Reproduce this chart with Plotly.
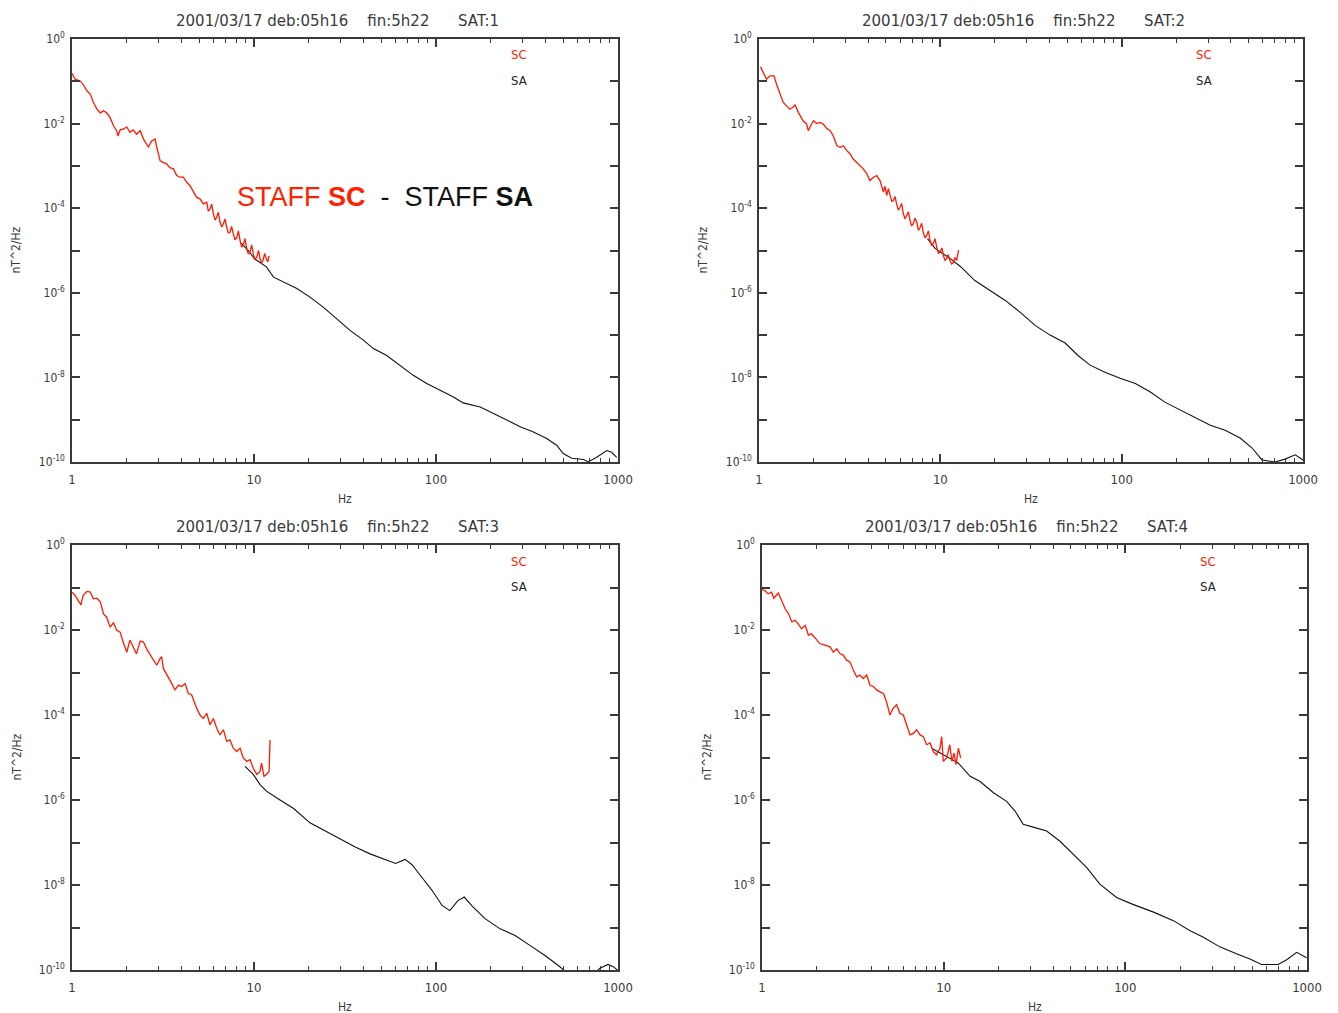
import plotly.graph_objects as go

# ---------------- data ----------------
titles = [
    "2001/03/17 deb:05h16    fin:5h22      SAT:1",
    "2001/03/17 deb:05h16    fin:5h22      SAT:2",
    "2001/03/17 deb:05h16    fin:5h22      SAT:3",
    "2001/03/17 deb:05h16    fin:5h22      SAT:4",
]
x_tick_vals = [1, 10, 100, 1000]
x_tick_text = ["1", "10", "100", "1000"]
y_tick_vals = [1e-10, 1e-9, 1e-8, 1e-7, 1e-6, 1e-5, 1e-4, 1e-3, 1e-2, 1e-1, 1e0]
y_tick_text = ["10<sup>-10</sup>", "", "10<sup>-8</sup>", "", "10<sup>-6</sup>", "",
               "10<sup>-4</sup>", "", "10<sup>-2</sup>", "", "10<sup>0</sup>"]

# SAT 1
sat1_sc_hz = [1.00, 1.04, 1.11, 1.15, 1.21, 1.26, 1.31, 1.37, 1.43, 1.49, 1.55, 1.62, 1.69, 1.76,
              1.79, 1.84, 1.91, 2.00, 2.08, 2.17, 2.26, 2.37, 2.47, 2.57, 2.63, 2.74, 2.86, 2.92,
              3.05, 3.18, 3.31, 3.45, 3.61, 3.76, 3.92, 4.09, 4.27, 4.45, 4.65, 4.84, 5.05, 5.27,
              5.50, 5.61, 5.73, 5.85, 5.98, 6.11, 6.24, 6.37, 6.50, 6.64, 6.79, 6.93, 7.08, 7.23,
              7.38, 7.53, 7.69, 7.86, 8.04, 8.21, 8.38, 8.55, 8.73, 8.92, 9.12, 9.31, 9.51, 9.71,
              9.91, 10.1, 10.35, 10.6, 10.8, 11.0, 11.2, 11.45, 11.7, 11.9, 12.1]
sat1_sc_psd = [0.155, 0.112, 0.102, 0.085, 0.059, 0.050, 0.032, 0.022, 0.018, 0.020, 0.018, 0.0138,
               0.0089, 0.0068, 0.0051, 0.0071, 0.0074, 0.0083, 0.0062, 0.0071, 0.0056, 0.0068,
               0.0043, 0.0033, 0.0028, 0.0039, 0.0043, 0.0028, 1.32e-3, 1.20e-3, 1.12e-3, 9.1e-4,
               8.5e-4, 5.9e-4, 5.4e-4, 5.4e-4, 4.1e-4, 3.4e-4, 2.4e-4, 1.8e-4, 1.66e-4, 1.26e-4,
               1.38e-4, 8.5e-5, 9.5e-5, 1.25e-4, 7.4e-5, 5.2e-5, 6.2e-5, 8.0e-5, 4.7e-5, 3.6e-5,
               4.3e-5, 5.6e-5, 3.5e-5, 2.6e-5, 2.7e-5, 3.7e-5, 2.5e-5, 1.8e-5, 2.0e-5, 2.9e-5,
               1.74e-5, 1.2e-5, 1.32e-5, 1.9e-5, 1.10e-5, 8.2e-6, 9.1e-6, 1.35e-5, 8.3e-6, 6.2e-6,
               6.9e-6, 1.0e-5, 6.3e-6, 5.0e-6, 5.8e-6, 8.5e-6, 6.3e-6, 5.4e-6, 7.5e-6]
sat1_sa_hz = [8.5, 9.3, 10.1, 11.7, 12.8, 13.9, 15.8, 17.2, 20.3, 24.0, 28.4, 33.7, 39.9, 45.3,
              53.6, 63.4, 75.0, 88.9, 105, 124, 141, 175, 207, 244, 290, 343, 406, 460, 500, 557,
              646, 687, 764, 867, 923, 984]
sat1_sa_psd = [1.5e-5, 1.0e-5, 6.3e-6, 4.1e-6, 2.34e-6, 1.95e-6, 1.48e-6, 1.26e-6, 7.9e-7, 4.6e-7,
               2.45e-7, 1.29e-7, 7.6e-8, 4.8e-8, 3.3e-8, 1.95e-8, 1.12e-8, 7.2e-9, 5.0e-9, 3.5e-9,
               2.5e-9, 2.0e-9, 1.41e-9, 9.8e-10, 6.8e-10, 5.1e-10, 3.6e-10, 2.5e-10, 1.58e-10,
               1.23e-10, 1.15e-10, 1.02e-10, 1.29e-10, 1.86e-10, 1.70e-10, 1.29e-10]

# SAT 2
sat2_sc_hz = [1.02, 1.06, 1.10, 1.15, 1.21, 1.25, 1.31, 1.36, 1.42, 1.48, 1.55, 1.58, 1.65, 1.75,
              1.83, 1.87, 1.95, 2.00, 2.08, 2.17, 2.26, 2.36, 2.47, 2.57, 2.69, 2.80, 2.92, 3.05,
              3.18, 3.31, 3.46, 3.61, 3.76, 3.93, 4.09, 4.28, 4.46, 4.65, 4.85, 4.95, 5.06, 5.17,
              5.28, 5.40, 5.51, 5.62, 5.74, 5.87, 6.00, 6.12, 6.25, 6.39, 6.53, 6.67, 6.81, 6.95,
              7.10, 7.25, 7.41, 7.57, 7.73, 7.89, 8.05, 8.23, 8.41, 8.59, 8.77, 8.95, 9.14, 9.35,
              9.55, 9.75, 9.95, 10.2, 10.4, 10.6, 10.8, 11.05, 11.3, 11.55, 11.8, 12.05, 12.3, 12.6]
sat2_sc_psd = [0.219, 0.148, 0.112, 0.135, 0.135, 0.085, 0.050, 0.0316, 0.0263, 0.0219, 0.0251,
               0.0275, 0.0182, 0.0117, 0.0098, 0.0068, 0.0098, 0.0117, 0.0100, 0.0107, 0.0098,
               0.0078, 0.0068, 0.0051, 0.0030, 0.00275, 0.0030, 2.29e-3, 1.91e-3, 1.45e-3, 1.20e-3,
               1.00e-3, 8.5e-4, 6.5e-4, 4.5e-4, 5.4e-4, 5.9e-4, 4.5e-4, 2.4e-4, 3.3e-4, 2.0e-4,
               2.9e-4, 2.2e-4, 1.45e-4, 1.51e-4, 1.9e-4, 1.26e-4, 9.0e-5, 1.05e-4, 1.3e-4, 7.4e-5,
               5.6e-5, 6.8e-5, 8.2e-5, 5.1e-5, 3.8e-5, 4.3e-5, 5.8e-5, 4.7e-5, 3.0e-5, 3.5e-5,
               4.4e-5, 2.7e-5, 2.0e-5, 2.24e-5, 2.9e-5, 1.74e-5, 1.3e-5, 1.45e-5, 1.9e-5, 1.20e-5,
               8.6e-6, 9.1e-6, 1.15e-5, 7.6e-6, 5.9e-6, 6.3e-6, 8.0e-6, 5.8e-6, 4.8e-6, 5.2e-6,
               6.8e-6, 5.8e-6, 1.02e-5]
sat2_sa_hz = [8.5, 9.35, 11.3, 12.9, 15.5, 18.8, 22.8, 27.5, 33.3, 40.3, 48.8, 57.4, 67.0, 80.9,
              98.0, 119, 144, 173, 210, 254, 308, 372, 450, 524, 594, 701, 796, 906, 1000]
sat2_sa_psd = [1.9e-5, 1.12e-5, 6.5e-6, 4.2e-6, 1.95e-6, 1.15e-6, 6.6e-7, 3.5e-7, 1.70e-7, 1.0e-7,
               6.5e-8, 3.3e-8, 1.95e-8, 1.32e-8, 9.5e-9, 7.2e-9, 4.5e-9, 2.6e-9, 1.70e-9, 1.10e-9,
               7.4e-10, 5.6e-10, 3.7e-10, 2.14e-10, 1.12e-10, 1.0e-10, 1.17e-10, 1.48e-10, 1.12e-10]

# SAT 3
sat3_sc_hz = [1.00, 1.04, 1.08, 1.12, 1.15, 1.21, 1.26, 1.31, 1.37, 1.43, 1.49, 1.55, 1.62, 1.69,
              1.76, 1.84, 1.91, 2.00, 2.08, 2.17, 2.26, 2.37, 2.47, 2.57, 2.69, 2.80, 2.92, 3.05,
              3.11, 3.18, 3.31, 3.45, 3.68, 3.84, 4.01, 4.18, 4.36, 4.54, 4.84, 5.05, 5.27, 5.50,
              5.73, 5.98, 6.24, 6.50, 6.79, 7.08, 7.38, 7.69, 8.04, 8.38, 8.73, 9.12, 9.51, 9.91,
              10.35, 10.8, 11.0, 11.35, 11.7, 12.1, 12.25]
sat3_sc_psd = [0.078, 0.065, 0.050, 0.039, 0.065, 0.081, 0.078, 0.054, 0.056, 0.046, 0.024, 0.020,
               0.0117, 0.0148, 0.0098, 0.0089, 0.0052, 0.0030, 0.0058, 0.0040, 0.00275, 0.0055,
               0.0052, 0.0036, 0.00257, 0.00195, 0.00148, 0.00214, 0.00234, 1.23e-3, 8.7e-4,
               6.6e-4, 3.9e-4, 5.0e-4, 4.7e-4, 5.5e-4, 3.2e-4, 3.0e-4, 1.45e-4, 1.0e-4, 8.3e-5,
               1.1e-4, 5.9e-5, 8.3e-5, 4.9e-5, 3.4e-5, 4.5e-5, 2.4e-5, 2.6e-5, 1.66e-5, 1.38e-5,
               1.66e-5, 9.8e-6, 8.1e-6, 8.9e-6, 5.6e-6, 4.0e-6, 4.7e-6, 7.4e-6, 3.6e-6, 4.0e-6,
               4.7e-6, 2.6e-5]
sat3_sa_hz = [8.93, 9.9, 10.8, 11.7, 13.9, 16.5, 20.3, 24.5, 29.7, 36.0, 43.4, 52.5, 60.0, 67.6,
              73.8, 83.8, 95.1, 108, 119, 132, 143, 158, 186, 225, 272, 328, 397, 468, 531, 618,
              719, 796, 881, 940, 1000]
sat3_sa_psd = [6.2e-6, 4.0e-6, 2.3e-6, 1.62e-6, 1.0e-6, 6.3e-7, 2.9e-7, 1.9e-7, 1.2e-7, 7.8e-8,
               5.4e-8, 3.9e-8, 3.2e-8, 4.0e-8, 3.0e-8, 1.5e-8, 7.5e-9, 3.3e-9, 2.5e-9, 4.3e-9,
               5.2e-9, 3.2e-9, 1.62e-9, 9.3e-10, 6.5e-10, 3.8e-10, 2.19e-10, 1.29e-10, 8.3e-11,
               6.3e-11, 7.4e-11, 1.10e-10, 1.35e-10, 1.20e-10, 9.8e-11]

# SAT 4
sat4_sc_hz = [1.00, 1.04, 1.08, 1.13, 1.16, 1.21, 1.23, 1.28, 1.34, 1.40, 1.46, 1.52, 1.58, 1.65,
              1.73, 1.80, 1.87, 1.96, 2.08, 2.22, 2.37, 2.47, 2.58, 2.69, 2.80, 2.92, 3.05, 3.18,
              3.32, 3.46, 3.61, 3.77, 3.93, 4.10, 4.28, 4.46, 4.66, 4.85, 5.06, 5.28, 5.51, 5.74,
              6.00, 6.25, 6.53, 6.81, 7.10, 7.41, 7.73, 8.05, 8.41, 8.77, 9.14, 9.55, 9.75, 9.95,
              10.4, 10.8, 11.1, 11.4, 11.7, 12.05, 12.4]
sat4_sc_psd = [0.089, 0.085, 0.071, 0.078, 0.056, 0.071, 0.074, 0.050, 0.0316, 0.024, 0.0155,
               0.0170, 0.0141, 0.0107, 0.0129, 0.0076, 0.0081, 0.0065, 0.0048, 0.0044, 0.0040,
               0.0030, 0.0036, 0.00275, 0.00257, 0.00195, 0.00178, 1.15e-3, 7.9e-4, 8.7e-4,
               7.2e-4, 8.7e-4, 5.0e-4, 4.7e-4, 3.9e-4, 3.5e-4, 3.2e-4, 2.04e-4, 1.0e-4, 1.45e-4,
               1.74e-4, 1.1e-4, 1.0e-4, 5.9e-5, 3.4e-5, 3.7e-5, 4.5e-5, 3.4e-5, 3.1e-5, 2.0e-5,
               2.2e-5, 1.38e-5, 1.15e-5, 1.66e-5, 3.1e-5, 8.1e-6, 9.8e-6, 2.0e-5, 8.1e-6, 1.26e-5,
               6.8e-6, 1.66e-5, 9.8e-6]
sat4_sa_hz = [8.59, 9.95, 12.05, 14.0, 15.8, 18.8, 22.2, 24.7, 27.4, 31.8, 36.9, 43.7, 51.6, 61.2,
              72.4, 89.5, 110, 143, 184, 226, 269, 331, 409, 485, 562, 693, 773, 877, 995]
sat4_sa_psd = [1.66e-5, 1.17e-5, 7.4e-6, 3.6e-6, 2.75e-6, 1.48e-6, 9.3e-7, 5.5e-7, 2.7e-7, 2.24e-7,
               1.86e-7, 1.07e-7, 5.2e-8, 2.6e-8, 1.05e-8, 5.1e-9, 3.5e-9, 2.3e-9, 1.45e-9, 8.5e-10,
               5.9e-10, 3.5e-10, 2.4e-10, 1.82e-10, 1.35e-10, 1.35e-10, 1.74e-10, 2.6e-10, 1.95e-10]

sc_series = [(sat1_sc_hz, sat1_sc_psd), (sat2_sc_hz, sat2_sc_psd),
             (sat3_sc_hz, sat3_sc_psd), (sat4_sc_hz, sat4_sc_psd)]
sa_series = [(sat1_sa_hz, sat1_sa_psd), (sat2_sa_hz, sat2_sa_psd),
             (sat3_sa_hz, sat3_sa_psd), (sat4_sa_hz, sat4_sa_psd)]

# ---------------- layout ----------------
W, H = 1338, 1013
# plot-area boxes in pixels: (left, right, top, bottom)
boxes = [(72, 618, 39, 462), (759, 1303, 39, 462), (72, 618, 545, 970), (762, 1307, 545, 970)]

def px(x):
    return x / W

def py(y):
    return 1 - y / H

minor_x = [m * 10 ** d for d in range(3) for m in range(2, 10)]

TXT = "DejaVu Sans, Liberation Sans, sans-serif"
TXTC = "DejaVu Sans Condensed, DejaVu Sans, sans-serif"
RED = "#ff1a00"
GREY = "#3a3a3a"

fig = go.Figure()
layout = dict(width=W, height=H, margin=dict(l=0, r=0, t=0, b=0, autoexpand=False),
              paper_bgcolor="white", plot_bgcolor="white", showlegend=False)
annotations = []

for i, (l, r, t, b) in enumerate(boxes):
    n = "" if i == 0 else str(i + 1)
    xa, ya = "x" + n, "y" + n
    sa_x, sa_y = sa_series[i]
    sc_x, sc_y = sc_series[i]
    fig.add_trace(go.Scatter(x=sa_x, y=sa_y, mode="lines", xaxis=xa, yaxis=ya,
                             line=dict(color="#111111", width=1.1)))
    fig.add_trace(go.Scatter(x=sc_x, y=sc_y, mode="lines", xaxis=xa, yaxis=ya,
                             line=dict(color=RED, width=1.3)))
    layout["xaxis" + n] = dict(
        type="log", range=[0, 3], domain=[px(l), px(r)], anchor=ya, automargin=False,
        showline=True, linecolor=GREY, linewidth=1.5, mirror="ticks",
        ticks="inside", ticklen=8, tickwidth=1.5, tickcolor=GREY,
        tickvals=x_tick_vals, ticktext=x_tick_text, showgrid=False, zeroline=False,
        ticklabelstandoff=5,
        tickfont=dict(family=TXTC, size=13, color=GREY),
        minor=dict(tickvals=minor_x, ticks="inside", ticklen=4, tickwidth=1.2,
                   tickcolor=GREY, showgrid=False),
    )
    layout["yaxis" + n] = dict(
        type="log", range=[-10, 0], domain=[py(b), py(t)], anchor=xa, automargin=False,
        showline=True, linecolor=GREY, linewidth=1.5, mirror="ticks",
        ticks="inside", ticklen=8, tickwidth=1.5, tickcolor=GREY,
        tickvals=y_tick_vals, ticktext=y_tick_text, showgrid=False, zeroline=False,
        ticklabelstandoff=3,
        tickfont=dict(family=TXTC, size=12, color=GREY),
    )
    cx = (l + r) / 2
    annotations.append(dict(x=px(cx - 8), y=py(t - 18), xref="paper", yref="paper",
                            text=titles[i], showarrow=False, xanchor="center", yanchor="middle",
                            font=dict(family=TXT, size=15, color=GREY)))
    annotations.append(dict(x=px(cx), y=py(b + 37), xref="paper", yref="paper",
                            text="Hz", showarrow=False, xanchor="center", yanchor="middle",
                            font=dict(family=TXTC, size=12, color=GREY)))
    annotations.append(dict(x=px(l - 56), y=py((t + b) / 2), xref="paper", yref="paper",
                            text="nT^2/Hz", showarrow=False, textangle=-90,
                            xanchor="center", yanchor="middle",
                            font=dict(family=TXTC, size=12, color=GREY)))
    annotations.append(dict(x=px(r - 99), y=py(t + 16), xref="paper", yref="paper",
                            text="SC", showarrow=False, xanchor="center", yanchor="middle",
                            font=dict(family=TXTC, size=13, color=RED)))
    annotations.append(dict(x=px(r - 99), y=py(t + 41), xref="paper", yref="paper",
                            text="SA", showarrow=False, xanchor="center", yanchor="middle",
                            font=dict(family=TXTC, size=13, color="#222222")))

annotations.append(dict(
    x=px(385), y=py(197), xref="paper", yref="paper", showarrow=False,
    xanchor="center", yanchor="middle",
    text=("<span style='color:#ff2200'>STAFF <b>SC</b></span>"
          "<span style='color:#111111'>  -  STAFF <b>SA</b></span>"),
    font=dict(family="Liberation Sans", size=27)))

layout["annotations"] = annotations
fig.update_layout(**layout)
fig.write_html("out.html")
